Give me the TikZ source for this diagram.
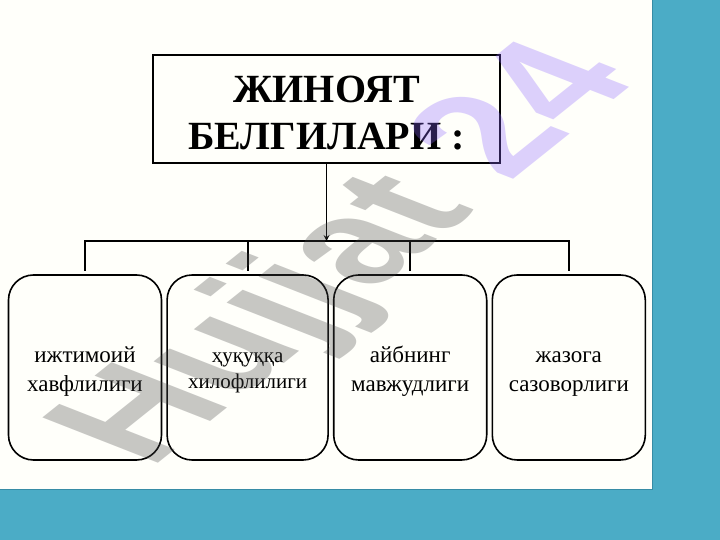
\documentclass[tikz,border=0pt]{standalone}
\usepackage{fontspec}
\setmainfont{Liberation Serif}
\newfontfamily\wmfont{Liberation Sans}
\usetikzlibrary{positioning,arrows}
\definecolor{slideteal}{RGB}{75,172,198}
\definecolor{tealedge}{RGB}{55,140,165}
\definecolor{wmgray}{RGB}{70,70,70}
\definecolor{wmviolet}{RGB}{140,100,255}
% two lines, with the first line lifted to #3
\newcommand{\pair}[3]{\rule{0pt}{#3}#1\\#2\rule[-4pt]{0pt}{4pt}}

\begin{document}
\begin{tikzpicture}[x=1pt,y=1pt,>=stealth,
title/.style={draw, line width=1.2pt, minimum width=347pt, minimum height=108pt,
align=center, font=\bfseries\fontsize{40}{47}\selectfont},
sign/.style={draw, rounded corners=25pt, line width=1.6pt, minimum width=153pt,
minimum height=185pt, align=center, font=\fontsize{23}{29}\selectfont},
link/.style={line width=1.8pt}]
\useasboundingbox (0,0) rectangle (720,540);
\fill[white!98!yellow] (0,0) rectangle (720,540);
% slide frame
\fill[slideteal] (652,50) rectangle (720,540);
\fill[slideteal] (0,0) rectangle (720,50);
\draw[tealedge, line width=1pt] (0,50) -- (652,50) -- (652,540);

\node[title](crime) at (326.5,431){\rule{0pt}{35pt}ЖИНОЯТ\\БЕЛГИЛАРИ :};
\node[sign](b1) at (85,172.5){\pair{ижтимоий}{хавфлилиги}{24pt}};
\node[sign][right=4pt of b1, minimum width=161pt,
  font=\fontsize{21}{26}\selectfont](b2){\pair{ҳуқуққа}{хилофлилиги}{21pt}};
\node[sign][right=4pt of b2](b3){\pair{айбнинг}{мавжудлиги}{24pt}};
\node[sign][right=4pt of b3](b4){\pair{жазога}{сазоворлиги}{24pt}};

\coordinate (bar) at (0,299);
\draw[->, line width=1.6pt] (crime.south) -- (crime.south |- bar);
\draw[link, shorten <=3.5pt, shorten >=3.5pt] (b1.north) -- (b1.north |- bar) -- (b4.north |- bar) -- (b4.north);
\path[link, shorten >=3.5pt] (b2.north |- bar) edge (b2.north)
      (b3.north |- bar) edge (b3.north);

% watermark
\begin{scope}[shift={(352,283)}, yscale=0.56, rotate=55]
\node[transform shape, text opacity=0.3, font=\wmfont\bfseries\fontsize{205}{205}\selectfont](wm)
  at (0,0){\textcolor{wmgray}{Hujjat} \textcolor{wmviolet}{24}};
\end{scope}
\end{tikzpicture}
\end{document}
